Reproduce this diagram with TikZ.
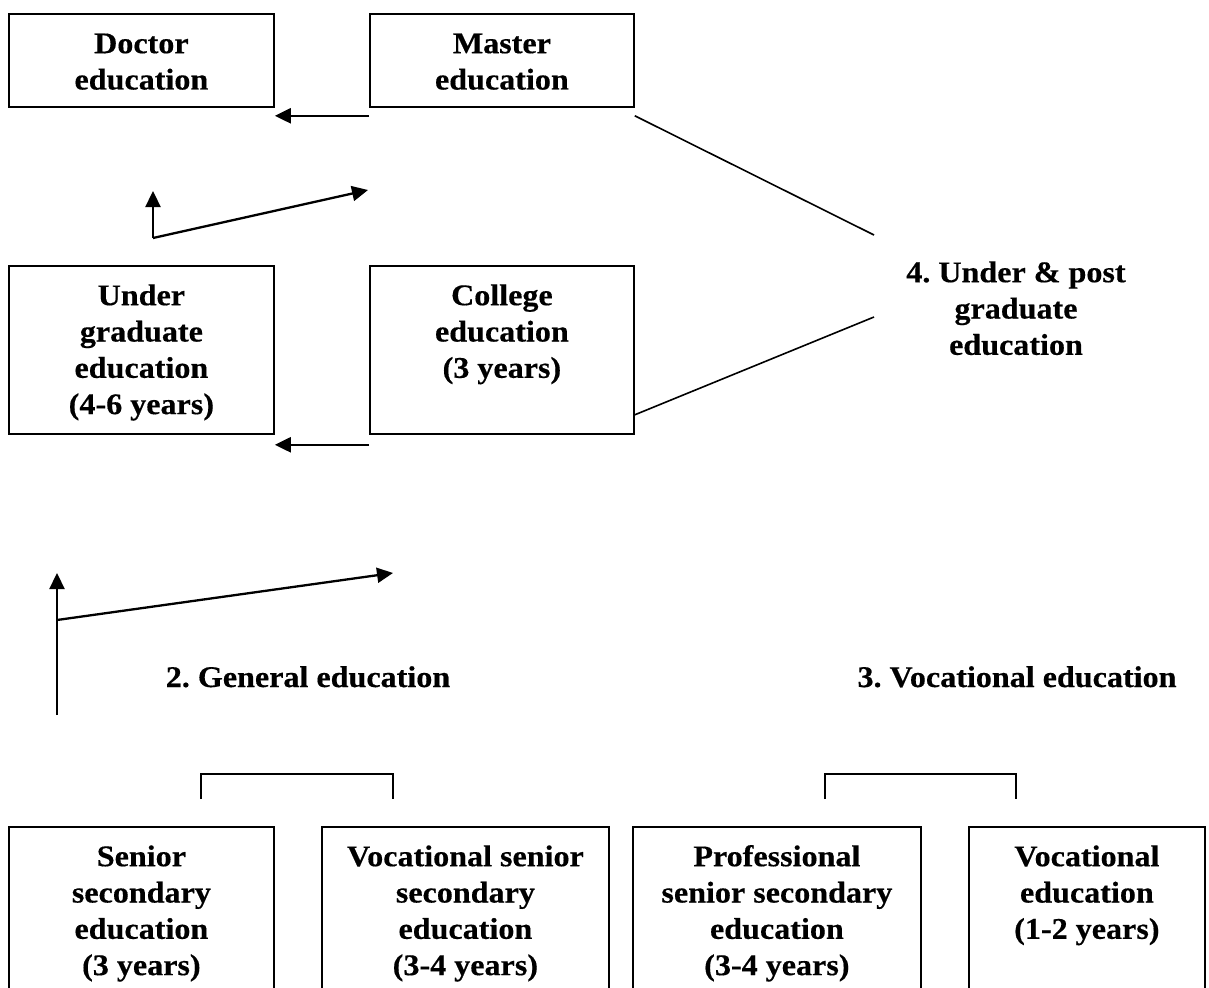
\documentclass[tikz,border=0pt]{standalone}
\usepackage{fontspec}
\setmainfont{Liberation Serif}[FakeStretch=1.07,FakeBold=0.4]
\usetikzlibrary{arrows.meta}
\frenchspacing
\newcommand\fl{\rule{0pt}{22pt}}
\tikzset{
  box/.style={draw, line width=1.8pt, inner sep=0pt, anchor=north west},
  txt/.style={font=\fontsize{30}{36.3}\selectfont\bfseries, align=center, inner sep=0pt, anchor=north},
  plain/.style={font=\fontsize{30}{36.3}\selectfont\bfseries, inner sep=0pt, anchor=base},
  arr/.style={line width=2.3pt, -{Triangle[length=16pt,width=15pt]}},
  thin/.style={line width=1.6pt},
  brk/.style={line width=1.8pt}
}
\begin{document}
\begin{tikzpicture}[x=1pt,y=-1pt]
\clip (0,0) rectangle (1209,987);
\fill[white] (0,0) rectangle (1209,987);
% top boxes
\node[box, minimum width=265pt, minimum height=93pt] (doctor) at (8,13) {};
\node[box, minimum width=264pt, minimum height=93pt] (master) at (369,13) {};
\node[txt] (doctor-t) at ([yshift=-18pt]doctor.north) {\fl Doctor\\education};
\node[txt] (master-t) at ([yshift=-18pt]master.north) {\fl Master\\education};
% middle boxes
\node[box, minimum width=265pt, minimum height=168pt] (under) at (8,265) {};
\node[box, minimum width=264pt, minimum height=168pt] (college) at (369,265) {};
\node[txt] (under-t) at ([yshift=-18pt]under.north) {\fl Under\\graduate\\education\\(4-6 years)};
\node[txt] (college-t) at ([yshift=-18pt]college.north) {\fl College\\education\\(3 years)};
% bottom boxes
\node[box, minimum width=265pt, minimum height=190pt] (sb1) at (8,826) {};
\node[box, minimum width=287pt, minimum height=190pt] (sb2) at (321,826) {};
\node[box, minimum width=288pt, minimum height=190pt] (sb3) at (632,826) {};
\node[box, minimum width=236pt, minimum height=190pt] (sb4) at (968,826) {};
\node[txt] (sb1-t) at ([yshift=-18pt]sb1.north) {\fl Senior\\secondary\\education\\(3 years)};
\node[txt] (sb2-t) at ([yshift=-18pt]sb2.north) {\fl Vocational senior\\secondary\\education\\(3-4 years)};
\node[txt] (sb3-t) at ([yshift=-18pt]sb3.north) {\fl Professional\\senior secondary\\education\\(3-4 years)};
\node[txt] (sb4-t) at ([yshift=-18pt]sb4.north) {\fl Vocational\\education\\(1-2 years)};
% labels
\node[txt] (lab4) at (1016,260) {\fl 4. Under \& post\\graduate\\education};
\node[plain] (lab2) at (308,687) {2. General education};
\node[plain] (lab3) at (1017,687) {3. Vocational education};
% horizontal arrows
\draw[arr] ([yshift=-8pt]master.south west) -- ([yshift=-8pt]doctor.south east);
\draw[arr] ([yshift=-10pt]college.south west) -- ([yshift=-10pt]under.south east);
% lines to label 4
\coordinate (c4a) at (874,235);
\coordinate (c4b) at (874,317);
\draw[thin] ([yshift=-8pt]master.south east) -- (c4a);
\draw[thin] ([yshift=20pt]college.south east) -- (c4b);
% upper bent arrows
\coordinate (u0) at (153,238);
\coordinate (u1) at (153,191);
\coordinate (u2) at (368,190);
\draw[arr] (u0) -- (u1);
\draw[arr] (u0) -- (u2);
% lower bent arrows
\coordinate (l0) at (57,715);
\coordinate (l1) at (57,573);
\coordinate (lm) at (57,620);
\coordinate (l2) at (393,573);
\draw[arr] (l0) -- (l1);
\draw[arr] (lm) -- (l2);
% brackets
\coordinate (b1a) at (201,799);
\coordinate (b1b) at (393,799);
\coordinate (b2a) at (825,799);
\coordinate (b2b) at (1016,799);
\draw[brk] (b1a) -- ++(0,-25) -| (b1b);
\draw[brk] (b2a) -- ++(0,-25) -| (b2b);
\end{tikzpicture}
\end{document}
